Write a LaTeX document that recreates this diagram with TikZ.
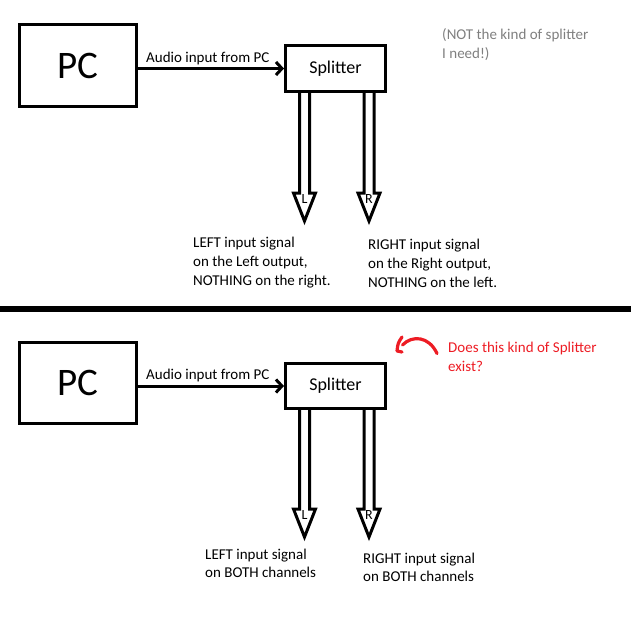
\documentclass[tikz,border=0pt]{standalone}
\usepackage{fontspec}
\setmainfont{Carlito}
\usepackage{xcolor}
\definecolor{notegray}{HTML}{7F7F7F}
\definecolor{notered}{HTML}{ED1C24}
\usepackage{tikz}
\usetikzlibrary{arrows.meta,calc}

\newcommand{\chanarrow}[3]{%
\draw[chanline] ($(#1)+(-5,0)$) -- ($(#2)+(-5,-28)$) -- ($(#2)+(-11,-28)$) -- (#2)
  -- ($(#2)+(11,-28)$) -- ($(#2)+(5,-28)$) -- ($(#1)+(5,0)$);
\node[chanlabel] (lbl#2) at ($(#2)+(0,-21.5)$) {#3};}

\begin{document}
\begin{tikzpicture}[x=1pt,y=-1pt,
  box/.style={draw,line width=3pt,inner sep=0pt},
  pcbox/.style={box,minimum width=117pt,font=\fontsize{39}{44}\selectfont},
  splbox/.style={box,minimum width=100pt,font=\fontsize{18}{22}\selectfont},
  feed/.style={line width=3pt,-{Straight Barb[length=6pt,width=13pt]}},
  feedlabel/.style={anchor=base west,inner sep=0pt,font=\fontsize{15}{18}\selectfont},
  chanline/.style={line width=3pt,line join=miter},
  chanlabel/.style={inner sep=0pt,font=\fontsize{14}{16}\selectfont},
  note/.style={anchor=north west,align=left,inner sep=0pt,font=\fontsize{15}{19}\selectfont}]
\useasboundingbox (0,0) rectangle (631,640);

% upper half
\node[pcbox,minimum height=82pt] (pcA) at (78,65.5) {PC};
\node[splbox,minimum height=46pt] (splA) at (335.5,68.5) {Splitter};
\draw[feed] (pcA.east |- splA.west) -- (splA.west);
\node[feedlabel] (audA) at (146,62) {Audio input from PC};
\node[note,text=notegray] (noteA) at (442,28.5) {(NOT the kind of splitter\\I need!)};
\coordinate (tipLA) at (304.5,221);
\coordinate (tipRA) at (369,221);
\coordinate (topLA) at (splA.south -| tipLA);
\coordinate (topRA) at (splA.south -| tipRA);
\chanarrow{topLA}{tipLA}{L}
\chanarrow{topRA}{tipRA}{R}
\node[note] (outLA) at (193,237) {LEFT input signal\\on the Left output,\\NOTHING on the right.};
\node[note] (outRA) at (368,239) {RIGHT input signal\\on the Right output,\\NOTHING on the left.};

\draw[line width=5.5pt] (0,309) -- (631,309);

% lower half
\node[pcbox,minimum height=81pt] (pcB) at (78,383) {PC};
\node[splbox,minimum height=45pt] (splB) at (335.5,386) {Splitter};
\draw[feed] (pcB.east |- splB.west) -- (splB.west);
\node[feedlabel] (audB) at (146,379.5) {Audio input from PC};
\draw[notered,line width=3.2pt,line cap=round,line join=round]
  (437,353.5) .. controls (429,336) and (412,335) .. (402.5,345);
\draw[notered,line width=3.2pt,line cap=round,line join=round]
  (402,337) .. controls (398,343) .. (397,351) -- (402,352);
\node[note,text=notered] (noteB) at (448,342.3) {Does this kind of Splitter\\exist?};
\coordinate (tipLB) at (304.5,537);
\coordinate (tipRB) at (369,537);
\coordinate (topLB) at (splB.south -| tipLB);
\coordinate (topRB) at (splB.south -| tipRB);
\chanarrow{topLB}{tipLB}{L}
\chanarrow{topRB}{tipRB}{R}
\node[note,font=\fontsize{15}{18}\selectfont] (outLB) at (205,549) {LEFT input signal\\on BOTH channels};
\node[note,font=\fontsize{15}{18}\selectfont] (outRB) at (363,553) {RIGHT input signal\\on BOTH channels};
\end{tikzpicture}
\end{document}
